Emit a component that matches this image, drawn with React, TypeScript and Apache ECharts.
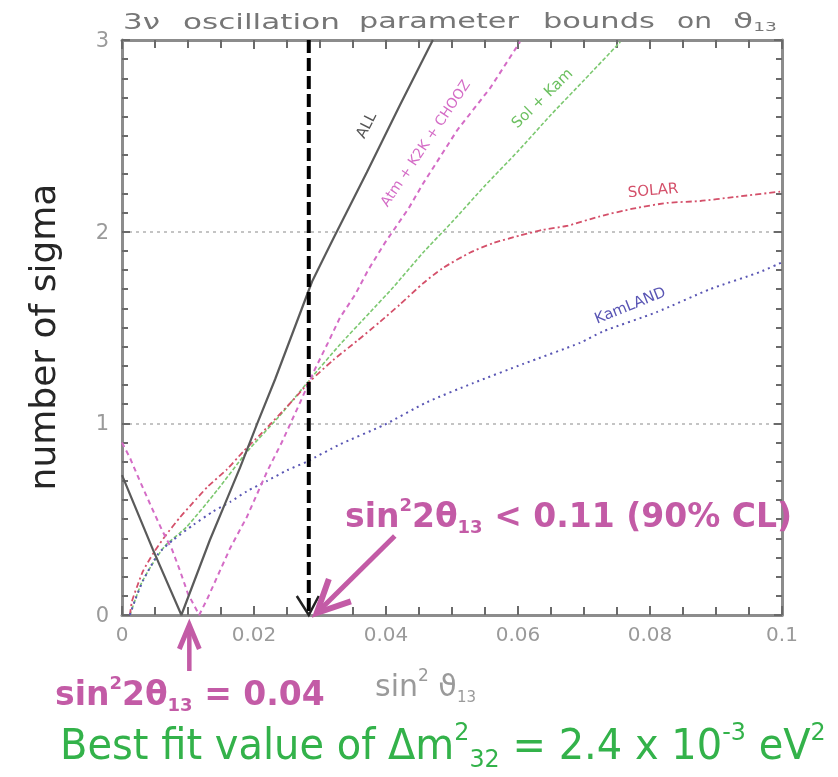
import React, { useEffect, useRef } from "react";
import * as echarts from "echarts";

// sin^2(theta13) sample points and number-of-sigma values for each data set
const allX = [0, 0.0047, 0.009, 0.0133, 0.0156, 0.0179, 0.0205, 0.0232, 0.0288, 0.0321, 0.0371, 0.0421, 0.0471];
const allY = [0.73, 0.34, 0, 0.39, 0.58, 0.77, 1.0, 1.23, 1.74, 1.97, 2.31, 2.66, 3.0];

const atmX = [0, 0.0012, 0.0027, 0.0045, 0.0061, 0.0076, 0.0088, 0.01, 0.0117, 0.013, 0.0164, 0.0189, 0.022, 0.0242, 0.027, 0.0292, 0.0312, 0.033, 0.0353, 0.0373, 0.0398, 0.0434, 0.0456, 0.0508, 0.0558, 0.0603];
const atmY = [0.9, 0.82, 0.7, 0.56, 0.44, 0.34, 0.23, 0.11, 0, 0.09, 0.35, 0.51, 0.75, 0.9, 1.11, 1.28, 1.42, 1.55, 1.67, 1.8, 1.94, 2.12, 2.25, 2.53, 2.75, 2.99];

const solKamX = [0.0012, 0.002, 0.003, 0.0045, 0.0065, 0.0098, 0.0144, 0.0189, 0.0239, 0.0285, 0.033, 0.0376, 0.0411, 0.0456, 0.05, 0.055, 0.06, 0.065, 0.07, 0.0755];
const solKamY = [0, 0.08, 0.17, 0.26, 0.36, 0.46, 0.65, 0.85, 1.04, 1.23, 1.41, 1.58, 1.71, 1.89, 2.05, 2.24, 2.42, 2.61, 2.79, 2.99];

const solarX = [0.0012, 0.0015, 0.0023, 0.0032, 0.0047, 0.0065, 0.0088, 0.0106, 0.013, 0.0159, 0.0183, 0.0209, 0.0259, 0.0285, 0.032, 0.0356, 0.0391, 0.0421, 0.0456, 0.0486, 0.0527, 0.0562, 0.0603, 0.0638, 0.0674, 0.0724, 0.0774, 0.0826, 0.0876, 0.0926, 0.1];
const solarY = [0, 0.07, 0.15, 0.23, 0.32, 0.41, 0.51, 0.58, 0.67, 0.76, 0.85, 0.94, 1.12, 1.22, 1.33, 1.43, 1.53, 1.62, 1.73, 1.81, 1.89, 1.94, 1.98, 2.01, 2.03, 2.08, 2.12, 2.15, 2.16, 2.18, 2.21];

const kamlandX = [0.0012, 0.002, 0.0032, 0.0055, 0.0077, 0.0108, 0.0138, 0.0164, 0.0189, 0.022, 0.025, 0.028, 0.033, 0.0396, 0.0462, 0.0532, 0.0608, 0.0694, 0.0729, 0.081, 0.0891, 0.0967, 0.1];
const kamlandY = [0, 0.08, 0.18, 0.32, 0.39, 0.47, 0.54, 0.59, 0.645, 0.7, 0.755, 0.8, 0.89, 0.99, 1.11, 1.21, 1.31, 1.42, 1.48, 1.58, 1.7, 1.79, 1.84];

// sin^2 theta13 for sin^2 2theta13 = 0.11 (90% CL bound) and 0.04 (best fit)
const limit90 = 0.0283;
const bestFit = 0.0102;

const titleWords: [string, number, number][] = [
  ["3ν", 123, 160],
  ["oscillation", 183, 340],
  ["parameter", 359, 519],
  ["bounds", 543, 655],
  ["on", 677, 712],
];

const MAGENTA = "#c35ba6";
const GREEN = "#33b24a";
const AXIS = "#8c8c8c";
const TICK = "#6a6a6a";

const pairs = (xs: number[], ys: number[]) => xs.map((x, i) => [x, ys[i]]);

export default function App() {
  const ref = useRef<HTMLDivElement>(null);

  useEffect(() => {
    const chart = echarts.init(ref.current!, null, { renderer: "svg" });

    const xBase = {
      type: "value",
      min: 0,
      max: 0.1,
      interval: 0.02,
      axisLine: { show: true, onZero: false, lineStyle: { color: AXIS, width: 3 } },
      axisTick: { show: true, inside: true, length: 9, lineStyle: { color: TICK, width: 2 } },
      minorTick: { show: true, splitNumber: 4, length: 8, lineStyle: { color: TICK, width: 2 } },
      splitLine: { show: false },
      minorSplitLine: { show: false },
    };
    const yBase = {
      type: "value",
      min: 0,
      max: 3,
      interval: 1,
      axisLine: { show: true, onZero: false, lineStyle: { color: AXIS, width: 3 } },
      axisTick: { show: true, inside: true, length: 8, lineStyle: { color: TICK, width: 2 } },
      minorTick: { show: true, splitNumber: 10, length: 6, lineStyle: { color: TICK, width: 2 } },
      minorSplitLine: { show: false },
    };

    const curve = (name: string, xs: number[], ys: number[], color: string, width: number, type: any, smooth: number | boolean) => ({
      type: "line",
      name,
      data: pairs(xs, ys),
      symbol: "none",
      smooth,
      xAxisIndex: 0,
      yAxisIndex: 0,
      lineStyle: { color, width, type },
      z: 3,
    });

    chart.setOption({
      animation: false,
      textStyle: { fontFamily: "DejaVu Sans" },
      grid: { left: 122, right: 56, top: 40, bottom: 162 },
      xAxis: [
        { ...xBase, position: "bottom", axisLabel: { color: "#9a9a9a", fontSize: 20, margin: 9 } },
        { ...xBase, position: "top", axisLabel: { show: false } },
      ],
      yAxis: [
        {
          ...yBase,
          position: "left",
          axisLabel: { color: "#9a9a9a", fontSize: 21, margin: 13 },
          splitLine: { show: true, lineStyle: { color: "#c4c4c4", width: 2, type: [3, 4] } },
        },
        { ...yBase, position: "right", axisLabel: { show: false }, splitLine: { show: false } },
      ],
      series: [
        curve("Sol + Kam", solKamX, solKamY, "#7cc870", 1.6, [4, 2], 0.2),
        curve("SOLAR", solarX, solarY, "#d4506a", 1.8, [6, 3, 2, 3], 0.2),
        curve("KamLAND", kamlandX, kamlandY, "#5a56b4", 2, [2, 4], 0.2),
        curve("Atm + K2K + CHOOZ", atmX, atmY, "#d46cc6", 2, [5, 4], false),
        curve("ALL", allX, allY, "#5a5a5a", 2.2, "solid", false),
        {
          type: "line",
          name: "90% CL",
          data: [[limit90, 3], [limit90, 0]],
          symbol: "none",
          lineStyle: { color: "#000", width: 4, type: [13, 5] },
          z: 4,
        },
      ],
    });

    const px = (x: number, y: number) => chart.convertToPixel({ seriesIndex: 0 }, [x, y]) as number[];

    const ctx = document.createElement("canvas").getContext("2d")!;
    const measure = (text: string, font: string) => {
      ctx.font = font;
      return ctx.measureText(text).width;
    };

    const titleFont = '21px "DejaVu Sans"';
    const titleEls: any[] = titleWords.map(([text, x0, x1]) => ({
      type: "text",
      x: x0,
      y: 21,
      scaleX: (x1 - x0) / measure(text, titleFont),
      style: { text, font: titleFont, fill: "#767676", align: "left", verticalAlign: "middle" },
    }));
    const thetaW = measure("ϑ", titleFont) + measure("13", '12px "DejaVu Sans"');
    titleEls.push({
      type: "text",
      x: 733,
      y: 21,
      scaleX: 44 / thetaW,
      style: {
        text: "{t|ϑ}{s|13}",
        fill: "#767676",
        align: "left",
        verticalAlign: "middle",
        rich: {
          t: { fontSize: 21, fontFamily: "DejaVu Sans", fill: "#767676", lineHeight: 24, verticalAlign: "middle" },
          s: { fontSize: 12, fontFamily: "DejaVu Sans", fill: "#767676", lineHeight: 12, verticalAlign: "bottom" },
        },
      },
    });

    const curveLabel = (text: string, x: number, y: number, deg: number, fill: string, size = 15) => ({
      type: "text",
      x,
      y,
      rotation: (deg * Math.PI) / 180,
      style: { text, fill, font: `${size}px "DejaVu Sans"`, align: "center", verticalAlign: "middle" },
      z: 10,
    });

    // annotation arrows anchored at the two sin^2 2theta13 values
    const tip1 = px(limit90, 0);
    const a1 = [tip1[0] + 8, tip1[1] - 2];
    const tail1 = [a1[0] + 78, a1[1] - 77];
    const ang = Math.atan2(tail1[1] - a1[1], tail1[0] - a1[0]);
    const barb = (da: number, len: number) => [a1[0] + len * Math.cos(ang + da), a1[1] + len * Math.sin(ang + da)];

    const tip2 = px(bestFit, 0);
    const a2 = [tip2[0], tip2[1] + 10];

    const magText = (x: number, y: number, tail: string) => ({
      type: "text",
      x,
      y,
      style: {
        text: `{m|sin}{ms|2}{m|2θ}{mb|13}{m|${tail}}`,
        fill: MAGENTA,
        align: "left",
        verticalAlign: "middle",
        rich: {
          m: { fontSize: 33, fontWeight: "bold", fontFamily: "DejaVu Sans", fill: MAGENTA, lineHeight: 40, verticalAlign: "middle" },
          ms: { fontSize: 18, fontWeight: "bold", fontFamily: "DejaVu Sans", fill: MAGENTA, lineHeight: 18, verticalAlign: "top" },
          mb: { fontSize: 18, fontWeight: "bold", fontFamily: "DejaVu Sans", fill: MAGENTA, lineHeight: 18, verticalAlign: "bottom" },
        },
      },
      z: 10,
    });

    const G_SIZE = 42;
    const S_SIZE = 25;
    const gFont = `${G_SIZE}px "DejaVu Sans"`;
    const sFont = `${S_SIZE}px "DejaVu Sans"`;
    const greenW =
      measure("Best fit value of Δm", gFont) +
      measure("2", sFont) +
      measure("32", sFont) +
      measure(" = 2.4 x 10", gFont) +
      measure("-3", sFont) +
      measure(" eV", gFont) +
      measure("2", sFont);

    chart.setOption({
      graphic: [
        ...titleEls,
        {
          type: "text",
          x: 42,
          y: 337,
          rotation: Math.PI / 2,
          style: { text: "number of sigma", font: '36px "DejaVu Sans"', fill: "#262626", align: "center", verticalAlign: "middle" },
        },
        {
          type: "text",
          x: 375,
          y: 685,
          style: {
            text: "{n|sin}{ns|2}{n| ϑ}{nb|13}",
            fill: "#9a9a9a",
            align: "left",
            verticalAlign: "middle",
            rich: {
              n: { fontSize: 30, fontFamily: "DejaVu Sans", fill: "#9a9a9a", lineHeight: 38, verticalAlign: "middle" },
              ns: { fontSize: 17, fontFamily: "DejaVu Sans", fill: "#9a9a9a", lineHeight: 17, verticalAlign: "top" },
              nb: { fontSize: 15, fontFamily: "DejaVu Sans", fill: "#9a9a9a", lineHeight: 15, verticalAlign: "bottom" },
            },
          },
        },
        curveLabel("ALL", 366, 125, 63, "#555555"),
        curveLabel("Atm + K2K + CHOOZ", 425, 143, 56, "#d46cc6", 14),
        curveLabel("Sol + Kam", 542, 98, 44, "#6cc060"),
        curveLabel("SOLAR", 653, 190, 5, "#d4506a"),
        curveLabel("KamLAND", 630, 305, 22, "#5a56b4"),
        {
          type: "polyline",
          shape: { points: [[tip1[0] - 12, tip1[1] - 19], [tip1[0], tip1[1]], [tip1[0] + 10, tip1[1] - 19]] },
          style: { stroke: "#222", lineWidth: 2.5, fill: null },
          z: 10,
        },
        {
          type: "line",
          shape: { x1: a1[0], y1: a1[1], x2: tail1[0], y2: tail1[1] },
          style: { stroke: MAGENTA, lineWidth: 5 },
          z: 10,
        },
        {
          type: "polyline",
          shape: { points: [barb(0.45, 36), a1, barb(-0.45, 36)] },
          style: { stroke: MAGENTA, lineWidth: 6, fill: null, lineJoin: "miter" },
          z: 10,
        },
        {
          type: "line",
          shape: { x1: a2[0], y1: a2[1], x2: a2[0], y2: a2[1] + 46 },
          style: { stroke: MAGENTA, lineWidth: 4.5 },
          z: 10,
        },
        {
          type: "polyline",
          shape: { points: [[a2[0] - 10, a2[1] + 24], a2, [a2[0] + 10, a2[1] + 24]] },
          style: { stroke: MAGENTA, lineWidth: 5, fill: null, lineJoin: "miter" },
          z: 10,
        },
        magText(345, 515, " < 0.11 (90% CL)"),
        magText(55, 693, " = 0.04"),
        {
          type: "text",
          x: 60,
          y: 745,
          scaleX: 766 / greenW,
          style: {
            text: "{g|Best fit value of Δm}{s|2}{b|32}{g| = 2.4 x 10}{s|-3}{g| eV}{s|2}",
            fill: GREEN,
            align: "left",
            verticalAlign: "middle",
            rich: {
              g: { fontSize: G_SIZE, fontFamily: "DejaVu Sans", fill: GREEN, lineHeight: 52, verticalAlign: "middle" },
              s: { fontSize: S_SIZE, fontFamily: "DejaVu Sans", fill: GREEN, lineHeight: S_SIZE, verticalAlign: "top" },
              b: { fontSize: S_SIZE, fontFamily: "DejaVu Sans", fill: GREEN, lineHeight: S_SIZE, verticalAlign: "bottom" },
            },
          },
          z: 10,
        },
      ],
    });

    return () => chart.dispose();
  }, []);

  return <div ref={ref} style={{ position: "fixed", left: 0, top: 0, width: 838, height: 777 }} />;
}
